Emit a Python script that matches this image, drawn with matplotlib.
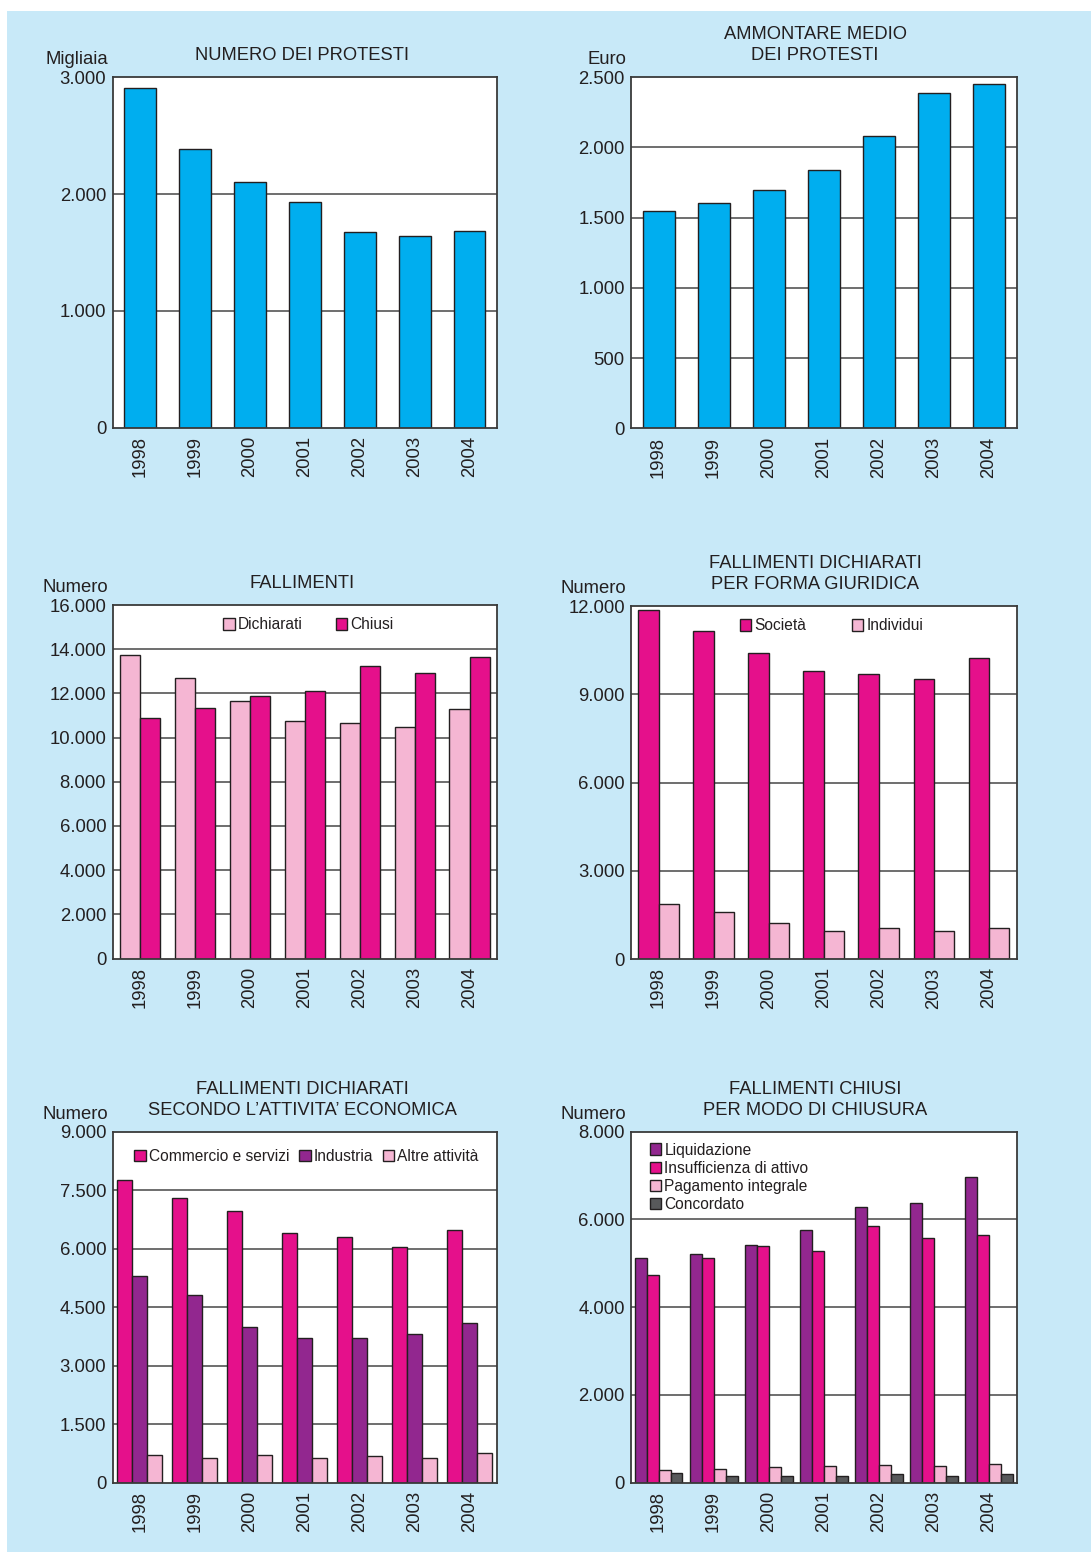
import numpy as np
import matplotlib
matplotlib.use('Agg')
import matplotlib.pyplot as plt
from matplotlib.patches import Rectangle
from matplotlib.ticker import FuncFormatter

plt.rcParams['font.family'] = ['Liberation Sans', 'DejaVu Sans']

# ── data ─────────────────────────────────────────────────────────────────────
years = ['1998', '1999', '2000', '2001', '2002', '2003', '2004']

protesti_numero = [2905, 2390, 2100, 1930, 1675, 1640, 1680]          # migliaia
protesti_importo = [1545, 1605, 1700, 1840, 2080, 2385, 2450]         # euro

fall_dichiarati = [13720, 12680, 11640, 10730, 10670, 10460, 11280]
fall_chiusi = [10870, 11320, 11870, 12090, 13230, 12920, 13630]

societa = [11850, 11140, 10400, 9790, 9680, 9510, 10220]
individui = [1860, 1590, 1210, 940, 1040, 940, 1040]

commercio = [7750, 7290, 6960, 6390, 6290, 6030, 6490]
industria = [5300, 4810, 3980, 3720, 3720, 3800, 4090]
altre = [700, 640, 700, 620, 670, 640, 750]

liquidazione = [5110, 5210, 5410, 5750, 6280, 6370, 6960]
insufficienza = [4730, 5110, 5390, 5270, 5840, 5570, 5640]
pagamento = [285, 305, 350, 375, 395, 375, 420]
concordato = [215, 145, 145, 145, 190, 145, 190]

# ── style ────────────────────────────────────────────────────────────────────
CYAN = '#00aeef'
MAGENTA = '#e5108b'
PINK = '#f5b6d3'
PURPLE = '#92278f'
GREY = '#58595b'
BG = '#c8e9f8'
TXT = '#231f20'
EDGE = '#231f20'

W, H = 1091, 1553
fig = plt.figure(figsize=(W / 100, H / 100), dpi=100, facecolor='white')
fig.patches.append(Rectangle((7 / W, 1 - 1552 / H), 1 - 7 / W, (1552 - 11) / H,
                             transform=fig.transFigure, facecolor=BG,
                             edgecolor='none', zorder=-10))

TICK_FS = 13.3
LEG_FS = 11.2


def px_axes(l, t, r, b):
    return fig.add_axes([l / W, 1 - b / H, (r - l) / W, (b - t) / H])


def it_fmt(v, pos=None):
    return f'{v:,.0f}'.replace(',', '.')


def setup(ax, ymax, step, unit, title, title_x):
    x = np.arange(len(years))
    ax.set_xlim(-0.5, len(years) - 0.5)
    ax.set_ylim(0, ymax)
    ax.set_yticks(np.arange(0, ymax + 1, step))
    ax.yaxis.set_major_formatter(FuncFormatter(it_fmt))
    ax.set_xticks(x)
    ax.set_xticklabels(years, rotation=90)
    ax.tick_params(length=0, labelsize=TICK_FS, labelcolor=TXT, pad=4.5)
    ax.tick_params(axis='x', pad=6)
    for v in np.arange(step, ymax, step):
        ax.axhline(v, color='#555555', lw=1.2, zorder=1)
    for s in ax.spines.values():
        s.set_color('#3a3a3a')
        s.set_linewidth(1.3)
        s.set_zorder(5)
    ax.annotate(unit, xy=(0, 1), xycoords='axes fraction', xytext=(-3.5, 12.5),
                textcoords='offset points', ha='right', va='center',
                fontsize=TICK_FS, color=TXT)
    bb = ax.get_position()
    fig.text(title_x / W, bb.y1 + 13 / H, title, ha='center', va='bottom',
             fontsize=13.2, color=TXT, linespacing=1.3)


def grouped(ax, series, colors, labels, total):
    x = np.arange(len(years))
    n = len(series)
    w = total / n
    handles = []
    for i, (vals, c, lab) in enumerate(zip(series, colors, labels)):
        h = ax.bar(x - total / 2 + w * (i + 0.5), vals, width=w, color=c,
                   edgecolor=EDGE, linewidth=1.0, zorder=3, label=lab)
        handles.append(h)
    return handles


def legend(ax, **kw):
    leg = ax.legend(frameon=False, fontsize=LEG_FS, handlelength=0.75,
                    handleheight=0.75, handletextpad=0.2, **kw)
    for t in leg.get_texts():
        t.set_color(TXT)
    return leg


L1, R1 = 112.5, 497
L2, R2 = 631, 1016.5

# ── 1: numero dei protesti ───────────────────────────────────────────────────
ax1 = px_axes(L1, 77.3, R1, 427.7)
setup(ax1, 3000, 1000, 'Migliaia', 'NUMERO DEI PROTESTI', 302)
ax1.bar(np.arange(len(years)), protesti_numero, width=0.58, color=CYAN,
        edgecolor=EDGE, linewidth=1.0, zorder=3)

# ── 2: ammontare medio ───────────────────────────────────────────────────────
ax2 = px_axes(L2, 77.3, R2, 428.3)
setup(ax2, 2500, 500, 'Euro', 'AMMONTARE MEDIO\nDEI PROTESTI', 815)
ax2.bar(np.arange(len(years)), protesti_importo, width=0.58, color=CYAN,
        edgecolor=EDGE, linewidth=1.0, zorder=3)

# ── 3: fallimenti ────────────────────────────────────────────────────────────
ax3 = px_axes(L1, 605, R1, 958.5)
setup(ax3, 16000, 2000, 'Numero', 'FALLIMENTI', 302)
grouped(ax3, [fall_dichiarati, fall_chiusi], [PINK, MAGENTA],
        ['Dichiarati', 'Chiusi'], 0.73)
legend(ax3, loc='upper center', bbox_to_anchor=(0.51, 1.0), ncol=2,
       columnspacing=2.1, borderaxespad=0.4)

# ── 4: per forma giuridica ───────────────────────────────────────────────────
ax4 = px_axes(L2, 606, R2, 959)
setup(ax4, 12000, 3000, 'Numero', 'FALLIMENTI DICHIARATI\nPER FORMA GIURIDICA', 815)
grouped(ax4, [societa, individui], [MAGENTA, PINK],
        ['Società', 'Individui'], 0.74)
legend(ax4, loc='upper center', bbox_to_anchor=(0.52, 1.0), ncol=2,
       columnspacing=2.9, borderaxespad=0.4)

# ── 5: per attività economica ────────────────────────────────────────────────
ax5 = px_axes(L1, 1131.7, R1, 1482.5)
setup(ax5, 9000, 1500, 'Numero',
      'FALLIMENTI DICHIARATI\nSECONDO L\u2019ATTIVITA\u2019 ECONOMICA', 302)
grouped(ax5, [commercio, industria, altre], [MAGENTA, PURPLE, PINK],
        ['Commercio e servizi', 'Industria', 'Altre attività'], 0.82)
legend(ax5, loc='upper center', bbox_to_anchor=(0.505, 1.0), ncol=3,
       columnspacing=0.6, borderaxespad=0.7)

# ── 6: per modo di chiusura ──────────────────────────────────────────────────
ax6 = px_axes(L2, 1131.7, R2, 1482.7)
setup(ax6, 8000, 2000, 'Numero', 'FALLIMENTI CHIUSI\nPER MODO DI CHIUSURA', 815)
grouped(ax6, [liquidazione, insufficienza, pagamento, concordato],
        [PURPLE, MAGENTA, PINK, GREY],
        ['Liquidazione', 'Insufficienza di attivo', 'Pagamento integrale',
         'Concordato'], 0.87)
legend(ax6, loc='upper left', bbox_to_anchor=(0.02, 1.0), ncol=1,
       labelspacing=0.2, borderaxespad=0.3)

fig.savefig('out.png', dpi=100, facecolor='white')
